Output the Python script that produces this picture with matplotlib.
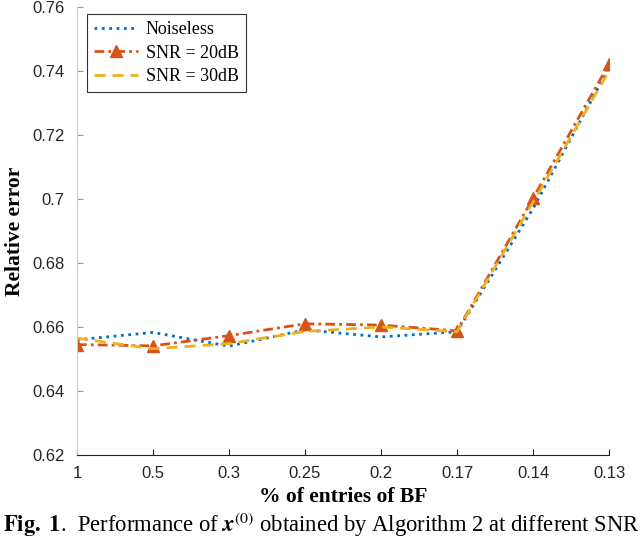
import matplotlib
matplotlib.use("Agg")
import matplotlib.pyplot as plt
import numpy as np

plt.rcParams['mathtext.fontset'] = 'stix'

x_labels = ["1", "0.5", "0.3", "0.25", "0.2", "0.17", "0.14", "0.13"]
noiseless = [0.6560, 0.6583, 0.6540, 0.6591, 0.6569, 0.6585, 0.6970, 0.7410]
snr20 = [0.6545, 0.6541, 0.6573, 0.6610, 0.6606, 0.6588, 0.7002, 0.7422]
snr30 = [0.6565, 0.6532, 0.6548, 0.6586, 0.6600, 0.6585, 0.6990, 0.7400]
y_ticks = [0.62, 0.64, 0.66, 0.68, 0.7, 0.72, 0.74, 0.76]

fig = plt.figure(figsize=(6.4, 5.38), dpi=100)
ax = fig.add_axes([0.1203, 0.1543, 0.8313, 0.8327])
xs = np.arange(len(x_labels))

ax.plot(xs, noiseless, ':', color='#0072BD', lw=2, label='Noiseless')
ax.plot(xs, snr20, '-.', color='#D95319', lw=2, marker='^', markersize=9,
        dashes=(3.5, 1.5, 1, 1.5),
        markerfacecolor='#D95319', markeredgecolor='#D95319', label='SNR = 20dB')
ax.plot(xs, snr30, '--', color='#EDB120', lw=2, dashes=(4, 2.5), label='SNR = 30dB')

ax.set_xlim(0, len(x_labels) - 1)
ax.set_ylim(0.62, 0.76)
ax.set_xticks(xs)
ax.set_xticklabels(x_labels)
ax.set_yticks(y_ticks)
ax.set_yticklabels([f"{v:g}" for v in y_ticks])

for s in ['top', 'right']:
    ax.spines[s].set_visible(False)
ax.spines['left'].set_color('#cccccc')
ax.spines['bottom'].set_color('#222222')
ax.tick_params(axis='both', direction='in', length=4, labelsize=12,
               labelfontfamily='Liberation Sans')
ax.tick_params(axis='y', colors='#999999', labelcolor='#262626', pad=9)
ax.tick_params(axis='x', colors='#222222', labelcolor='#262626', pad=8)

ax.set_xlabel('% of entries of BF', family='Liberation Serif', fontweight='bold',
              fontsize=15.5, labelpad=4)
ax.set_ylabel('Relative error', family='Liberation Serif', fontweight='bold',
              fontsize=15.5, labelpad=5)

leg = ax.legend(loc='upper left', bbox_to_anchor=(0.0188, 0.984),
                borderaxespad=0,
                prop={'family': 'Liberation Serif', 'size': 13},
                fancybox=False, edgecolor='#333333', framealpha=1,
                handlelength=2.4, borderpad=0.4, labelspacing=0.35,
                handletextpad=0.45)
leg.get_frame().set_linewidth(0.8)

fig.text(0.004, 0.012,
         r'$\mathbf{Fig.\ 1}$.  Performance of $\boldsymbol{x}^{(0)}$ obtained by Algorithm 2 at different SNR',
         family='Liberation Serif', fontsize=16.3, ha='left', va='baseline')

fig.savefig('out.png', dpi=100)
